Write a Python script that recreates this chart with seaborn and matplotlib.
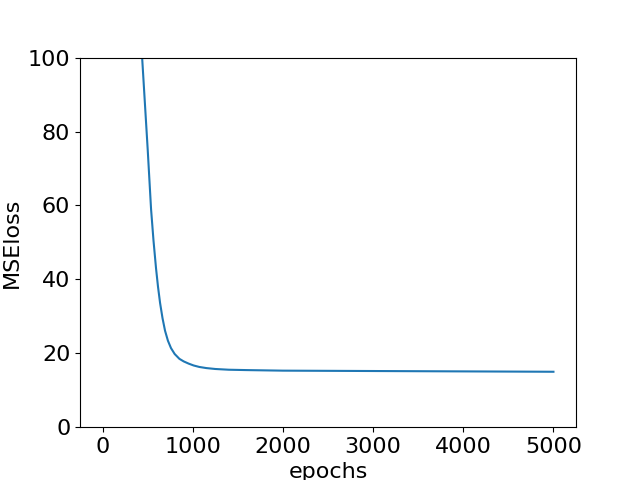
import pandas as pd
import matplotlib
matplotlib.use('Agg')
import matplotlib.pyplot as plt
import seaborn as sns

# loss curve (the part above 100 is clipped)
epochs = [400, 439, 470, 501, 538, 565, 593, 615, 638, 665, 693, 725, 759,
          800, 852, 900, 955, 1010, 1073, 1150, 1250, 1400, 1600, 2000, 3000,
          4000, 5000]
loss = [115, 100, 87.5, 75, 59, 50.5, 43, 38, 33.6, 29.5, 26.1, 23.4, 21.4,
        19.8, 18.5, 17.8, 17.2, 16.7, 16.3, 16.0, 15.75, 15.55, 15.45, 15.3,
        15.2, 15.1, 15.0]

df = pd.DataFrame({'epochs': epochs, 'MSEloss': loss})

plt.rcParams['font.size'] = 16
fig, ax = plt.subplots(figsize=(6.4, 4.8), dpi=100)
sns.lineplot(data=df, x='epochs', y='MSEloss', color='tab:blue', ax=ax)
ax.set_xlim(-250, 5250)
ax.set_ylim(0, 100)
ax.set_xlabel('epochs')
ax.set_ylabel('MSEloss')
fig.savefig('out.png', dpi=100)
